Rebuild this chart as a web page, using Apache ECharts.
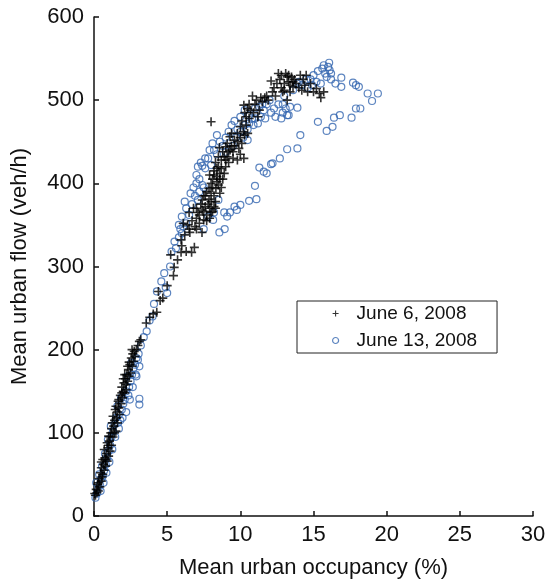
<!DOCTYPE html>
<html>
<head>
<meta charset="utf-8">
<script src="https://cdn.jsdelivr.net/npm/echarts@6/dist/echarts.min.js"></script>
<style>
  html, body { margin: 0; padding: 0; background: #fff; }
  #flowChart { width: 545px; height: 579px; }
</style>
</head>
<body>
<div id="flowChart"></div>
<script>
// series names
const seriesNames = ["June 6, 2008", "June 13, 2008"];

// June 6, 2008 : [occupancy %, flow veh/h]
const june6 = [
  [0.1,25],[0.2,28],[0.15,32],[0.3,30],[0.25,38],[0.4,35],[0.35,45],[0.5,42],[0.45,52],[0.6,50],
  [0.5,58],[0.7,55],[0.65,62],[0.8,60],[0.6,68],[0.75,70],[0.9,66],[0.85,75],[1.0,72],[0.7,80],
  [0.95,82],[1.1,78],[0.9,88],[1.05,90],[1.2,85],[1.0,96],[1.15,100],[1.3,95],[1.2,105],[1.35,108],
  [1.5,102],[1.4,115],[1.3,120],[1.55,118],[1.6,125],[1.45,128],[1.7,130],[1.75,122],[1.65,138],[1.85,135],
  [1.8,145],[1.95,142],[2.0,150],[1.9,155],[2.1,148],[2.05,160],[2.2,158],[2.15,165],[2.3,162],[2.25,170],
  [2.4,168],[2.35,176],[2.5,172],[2.45,182],[2.6,180],[2.55,190],[2.7,186],[2.65,195],[2.8,192],[2.9,200],
  [3.0,205],[3.1,210],[3.2,212],
  [0.05,27],[0.3,40],[0.55,47],[0.5,65],[0.8,68],[1.0,85],[1.1,95],[1.25,112],[1.6,112],[1.5,132],
  [1.7,140],[1.9,148],[2.2,152],[2.1,170],[2.4,185],[2.6,200],[2.75,198],[2.3,180],[2.0,165],[1.4,100],
  [3.57,232],[3.81,239],[4.05,243],[4.29,245],[4.4,270],[4.52,259],[4.7,262],[5.0,277],[5.43,289],[5.48,299],
  [5.24,314],[5.71,308],[5.95,317],[6.3,318],[6.67,317],[6.86,323],[5.95,332],[6.2,338],[6.55,341],[7.38,341],
  [6.9,348],[6.4,350],[6.7,355],[7.0,358],[7.2,352],[7.5,356],[7.1,365],[7.4,368],[7.7,362],[7.9,358],
  [8.1,366],[8.3,370],[7.6,372],[7.8,375],[8.0,378],[6.8,370],[7.3,375],[7.86,381],[8.2,385],[7.7,390],
  [7.86,394],[8.33,394],[8.0,400],[8.5,398],[8.1,405],[8.4,408],[7.9,410],[8.6,412],[8.2,415],[8.8,405],
  [8.5,420],[8.3,425],[8.7,428],[9.0,420],[8.9,432],[8.57,443],[9.2,438],[9.5,430],[9.8,428],[10.0,435],
  [10.24,430],[9.1,448],[9.4,445],[9.29,456],[9.6,452],[9.8,460],[10.0,468],[10.2,462],[10.4,470],[10.6,478],
  [10.3,485],[10.24,494],[10.5,490],[10.83,505],[11.0,495],[11.3,488],[11.5,498],[11.67,503],[11.2,480],[8.0,474],
  [12.1,523],[12.4,505],[12.6,532],[12.8,515],[13.1,532],[13.0,520],[13.3,522],[13.6,516],[13.4,510],[13.5,528],
  [13.8,520],[14.0,515],[14.3,525],[14.5,530],[14.6,510],[14.8,520],[15.0,510],[15.2,514],[15.5,503],[15.7,510],
  [13.2,500],[12.9,510],[13.7,525],[14.1,530],[11.9,500],[12.2,510],
  [7.0,345],[7.2,362],[7.5,366],[7.7,355],[8.0,365],[8.2,372],[7.4,380],[7.6,385],[8.0,388],[8.3,378],
  [8.6,388],[8.1,395],[8.4,402],[8.7,395],[8.2,410],[8.6,405],[8.9,412],[8.4,418],[8.7,418],[9.0,428],
  [9.2,425],[8.8,438],[9.0,444],[9.3,440],[9.1,432],[9.5,438],[9.6,445],[9.8,450],[10.0,455],[9.9,442],
  [10.1,448],[10.3,458],[10.5,460],[10.1,475],[10.4,480],[10.7,488],[10.9,485],[11.1,500],[11.4,503],[11.8,505],
  [10.6,495],[12.3,515],[12.5,520],[12.7,525],[13.0,512],[13.2,528],[13.4,518],[13.6,522],[13.3,530],[12.8,530],
  [14.2,512],[14.4,518],[15.4,508],[6.0,325],[6.5,345],[6.1,352],[6.5,365],[7.0,370],[7.5,385],[7.9,370],
  [8.5,432],[9.4,460]
];

// June 13, 2008 : [occupancy %, flow veh/h]
const june13 = [
  [0.1,22],[0.2,27],[0.3,33],[0.15,40],[0.4,38],[0.5,45],[0.35,50],[0.6,48],[0.7,55],[0.55,60],
  [0.8,62],[0.9,70],[0.75,75],[1.0,78],[1.1,85],[0.95,92],[1.2,95],[1.3,102],[1.15,108],[1.4,110],
  [1.5,118],[1.65,112],[1.8,115],[1.7,122],[1.6,132],[1.9,128],[2.0,135],[1.85,142],[2.1,140],[2.2,150],
  [2.35,145],[2.4,155],[2.5,162],[2.3,168],[2.6,170],[2.7,178],[2.55,184],[2.8,182],[2.9,190],[3.0,188],
  [3.05,195],[2.85,170],[3.1,134],[3.1,141],
  [0.45,30],[0.65,40],[0.85,52],[1.05,65],[1.25,80],[1.45,95],[1.7,105],[1.95,118],[2.2,125],[2.45,140],
  [2.65,155],[2.9,168],[3.1,180],
  [3.2,205],[3.4,215],[3.6,222],[3.8,235],[4.0,240],[4.1,255],[4.3,270],[4.6,282],[4.8,292],[4.9,275],
  [5.0,268],[5.2,300],[5.3,318],[5.5,330],[5.6,322],[5.8,335],[5.9,345],[6.1,348],[6.3,352],[6.0,360],
  [6.3,370],[6.5,362],[6.7,375],[6.9,385],[7.1,380],[6.8,395],[7.0,400],[7.2,405],[7.4,398],[7.1,420],
  [7.3,425],[7.6,418],[7.8,430],[8.0,422],[8.2,440],[8.4,435],[8.6,450],[8.8,445],[9.0,455],[9.2,462],
  [9.4,470],[9.6,475],[9.8,465],[10.0,480],[10.3,488],[10.6,482],[10.8,478],[11.0,490],[11.3,492],[11.6,488],
  [11.8,495],[12.0,500],[12.3,490],[12.6,495],[12.9,485],[13.2,482],[13.4,492],[13.0,505],[13.6,512],[13.9,520],
  [14.2,518],[14.5,525],[14.8,525],[15.0,530],[15.3,535],[15.6,538],[15.8,532],[16.0,540],[16.07,545],[15.9,528],
  [16.2,532],[15.5,520],[14.9,518],[9.0,438],[9.5,445],[10.2,455],[10.5,465],[10.9,470],[11.2,472],[7.8,360],
  [8.2,365],[7.5,345],[8.5,380],[7.4,421],
  [7.2,390],[7.5,395],[7.0,410],[7.6,430],[8.1,448],[8.4,458],[7.9,440],[10.3,470],[10.6,472],[11.0,478],
  [11.4,480],[11.7,478],[11.5,495],[12.1,485],[12.4,480],[12.8,478],[13.1,490],[12.9,495],[10.0,462],[10.5,452],
  [9.7,455],[14.0,522],[14.6,515],[15.2,522],[15.7,542],[16.1,536],[6.2,378],[6.6,388],[6.0,340],[5.8,350],
  [8.57,341],[8.93,345],[8.14,356],[9.29,365],[10.0,374],[9.76,368],[10.6,379],[11.1,381],[11.0,397],[11.3,419],
  [11.8,412],[11.6,414],[12.1,423],[12.7,430],[13.2,441],[13.9,442],[14.1,458],[15.3,474],[15.9,463],[16.3,468],
  [16.4,479],[16.8,482],[17.6,479],[17.9,490],[18.2,490],[19.0,499],[19.4,508],[18.7,508],[18.1,516],[17.7,521],
  [16.9,516],[16.9,527],[17.9,518],[13.9,491],[13.3,482],[16.5,520],[16.2,525],[12.2,424],[8.9,365],[9.1,360],
  [9.6,372]
];

const plusPath = "path://M4.1,0H5.9V4.1H10V5.9H5.9V10H4.1V5.9H0V4.1H4.1Z";
const blue = "#3566b0";

let myChart = echarts.init(document.getElementById("flowChart"));
let options = {
  animation: false,
  textStyle: { fontFamily: "Liberation Sans, Arial, sans-serif" },
  grid: { left: 94, right: 12, top: 17, bottom: 63, outerBoundsMode: "none", containLabel: false },
  legend: {
    orient: "vertical",
    left: 297,
    top: 301,
    padding: [3, 20, 3, 35],
    itemGap: 8,
    itemWidth: 6,
    itemHeight: 6,
    borderColor: "#222",
    borderWidth: 1,
    borderRadius: 0,
    textStyle: { fontSize: 19, lineHeight: 19, color: "#111", padding: [0, 0, 0, 13] },
    data: [
      { name: seriesNames[0], icon: plusPath, itemStyle: { color: "#000" } },
      { name: seriesNames[1], icon: "circle", itemStyle: { color: "transparent", borderColor: blue, borderWidth: 1.2 } },
    ],
  },
  xAxis: {
    type: "value",
    min: 0,
    max: 30,
    interval: 5,
    name: "Mean urban occupancy (%)",
    nameLocation: "middle",
    nameGap: 41,
    nameTextStyle: { fontSize: 22, color: "#111" },
    axisLine: { lineStyle: { color: "#111", width: 1.5 } },
    axisTick: { inside: true, length: 5, lineStyle: { color: "#111", width: 1.5 } },
    axisLabel: { fontSize: 22, color: "#111", margin: 8 },
    splitLine: { show: false },
  },
  yAxis: {
    type: "value",
    min: 0,
    max: 600,
    interval: 100,
    name: "Mean urban flow (veh/h)",
    nameLocation: "middle",
    nameGap: 63,
    nameTextStyle: { fontSize: 22, color: "#111" },
    axisLine: { show: true, lineStyle: { color: "#111", width: 1.5 } },
    axisTick: { show: true, inside: true, length: 5, lineStyle: { color: "#111", width: 1.5 } },
    axisLabel: { fontSize: 22, color: "#111", margin: 10 },
    splitLine: { show: false },
  },
  series: [
    {
      name: seriesNames[1],
      type: "scatter",
      symbol: "circle",
      symbolSize: 7,
      itemStyle: { color: "transparent", borderColor: blue, borderWidth: 1.2 },
      data: june13,
    },
    {
      name: seriesNames[0],
      type: "scatter",
      symbol: plusPath,
      symbolSize: 9,
      itemStyle: { color: "#000" },
      data: june6,
    },
  ],
};
myChart.setOption(options);
</script>
</body>
</html>
